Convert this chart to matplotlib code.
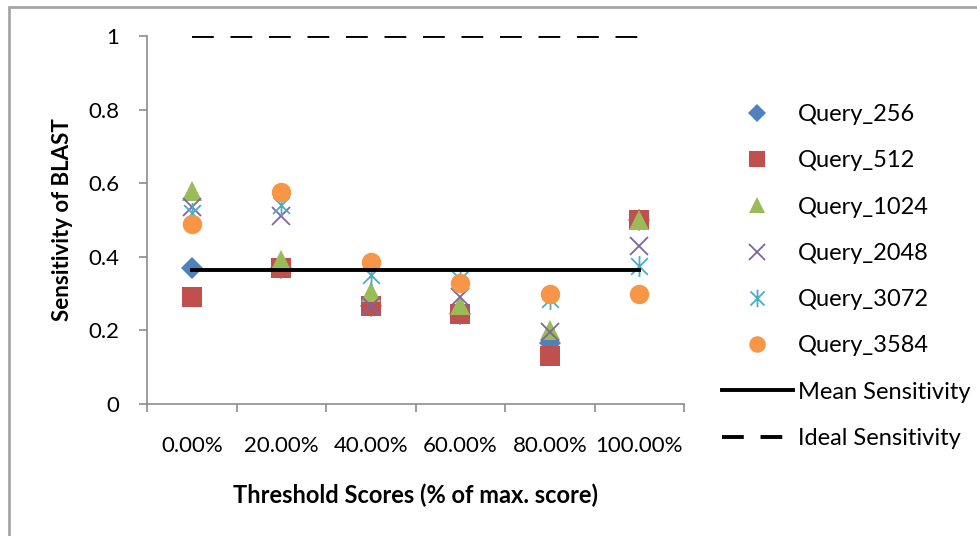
import matplotlib
matplotlib.use("Agg")
import matplotlib.pyplot as plt
from matplotlib.patches import Rectangle
from matplotlib.path import Path
import numpy as np

plt.rcParams['font.family'] = ['Lato', 'DejaVu Sans']

thresholds = ["0.00%", "20.00%", "40.00%", "60.00%", "80.00%", "100.00%"]
query_256 = [0.37, 0.37, 0.265, 0.245, 0.165, 0.50]
query_512 = [0.29, 0.37, 0.265, 0.245, 0.13, 0.50]
query_1024 = [0.58, 0.39, 0.305, 0.27, 0.20, 0.50]
query_2048 = [0.535, 0.51, 0.265, 0.29, 0.195, 0.43]
query_3072 = [0.52, 0.54, 0.35, 0.34, 0.285, 0.375]
query_3584 = [0.49, 0.575, 0.385, 0.33, 0.30, 0.30]
mean_sensitivity = [0.364] * 6
ideal_sensitivity = [1.0] * 6

# Excel style asterisk: an x with a vertical bar
star = Path([(-1, -1), (1, 1), (-1, 1), (1, -1), (0, -1.25), (0, 1.25)],
            [Path.MOVETO, Path.LINETO, Path.MOVETO, Path.LINETO, Path.MOVETO, Path.LINETO])

series = [
    ("Query_256", query_256, "D", 11, "#4F81BD"),
    ("Query_512", query_512, "s", 14, "#C0504D"),
    ("Query_1024", query_1024, "^", 14, "#9BBB59"),
    ("Query_2048", query_2048, "x", 13, "#8064A2"),
    ("Query_3072", query_3072, star, 15, "#4BACC6"),
    ("Query_3584", query_3584, "o", 14, "#F79646"),
]

fig = plt.figure(figsize=(9.77, 5.36), dpi=100)
ax = fig.add_axes([147 / 977, 132 / 536, (684 - 147) / 977, (404 - 36) / 536])

x = np.arange(1, 7)
for name, vals, mk, ms, col in series:
    if isinstance(mk, Path) or mk == "x":
        ax.plot(x, vals, ls="none", marker=mk, ms=ms, mew=1.3, color=col, label=name)
    else:
        ax.plot(x, vals, ls="none", marker=mk, ms=ms, mew=0, color=col, label=name)

ax.plot(x, mean_sensitivity, color="black", lw=2.8, label="Mean Sensitivity")
ax.plot(x, ideal_sensitivity, color="black", lw=2.8, dashes=(5.6, 4.3), label="Ideal Sensitivity")

ax.set_xlim(0.5, 6.5)
ax.set_ylim(0, 1)
ax.set_yticks([0, 0.2, 0.4, 0.6, 0.8, 1.0])
ax.set_yticklabels(["0", "0.2", "0.4", "0.6", "0.8", "1"])
ax.set_xticks(np.arange(0.5, 7, 1))
ax.set_xticklabels([])
ax.set_xticks(x, minor=True)
ax.set_xticklabels(thresholds, minor=True)
ax.tick_params(axis="x", which="major", length=6, width=1.2, color="#8c8c8c")
ax.tick_params(axis="x", which="minor", length=0, pad=23, labelsize=16)
ax.tick_params(axis="y", length=6, width=1.2, color="#8c8c8c", pad=14, labelsize=16)

for s in ["top", "right"]:
    ax.spines[s].set_visible(False)
for s in ["left", "bottom"]:
    ax.spines[s].set_color("#8c8c8c")
    ax.spines[s].set_linewidth(1.2)

ax.set_xlabel("Threshold Scores (% of max. score)", fontsize=17, fontweight="bold", labelpad=20)
ax.set_ylabel("Sensitivity of BLAST", fontsize=16, fontweight="bold", labelpad=11)

fig.legend(loc="upper left", bbox_to_anchor=(722 / 977, 1 - 104 / 536), frameon=False,
           fontsize=17, handlelength=3.0, handletextpad=0.2, labelspacing=1.07,
           borderpad=0, borderaxespad=0, markerscale=0.85)

fig.patches.append(Rectangle((9 / 977, -0.05), 1.1, 1 - 7 / 536 + 0.05, transform=fig.transFigure,
                             fill=False, edgecolor="#a6a6a6", lw=2))

fig.savefig("out.png", dpi=100)
